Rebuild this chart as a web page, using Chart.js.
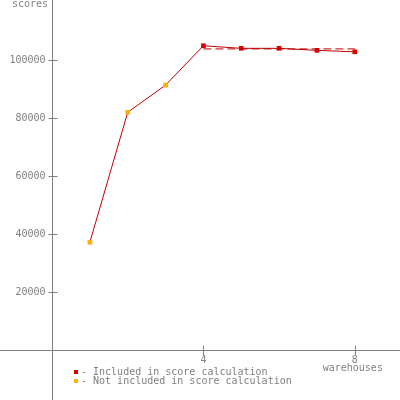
<!DOCTYPE html>
<html>
<head>
<meta charset="utf-8">
<script src="https://cdn.jsdelivr.net/npm/chart.js@4.4.0/dist/chart.umd.min.js"></script>
<style>
  html, body { margin: 0; padding: 0; background: #fff; }
</style>
</head>
<body>
<canvas id="chart" width="400" height="400"></canvas>
<script>
const warehouses = [1, 2, 3, 4, 5, 6, 7, 8];
const scores = [37200, 82100, 91500, 105100, 104200, 104200, 103500, 103000];
const included = [false, false, false, true, true, true, true, true];
const scoreLineX = [4, 8];
const scoreLineY = [104000, 104000];
const yTicks = [20000, 40000, 60000, 80000, 100000];
const xTicks = [4, 8];
const yTitle = 'scores';
const xTitle = 'warehouses';
const legendLabels = ['- Included in score calculation', '- Not included in score calculation'];

const RED = '#e00000';
const ORANGE = '#ffb000';
const GREY = '#808080';
const FONT = '10px "DejaVu Sans Mono", monospace';

// axes cross at 0,0 inside the plot, so they are drawn by hand from the scales
const axesPlugin = {
  id: 'crossAxes',
  beforeDatasetsDraw(chart) {
    const ctx = chart.ctx;
    const xs = chart.scales.x, ys = chart.scales.y;
    const x0 = Math.round(xs.getPixelForValue(0)) + 0.5;
    const y0 = Math.round(ys.getPixelForValue(0)) + 0.5;
    ctx.save();
    ctx.strokeStyle = GREY;
    ctx.lineWidth = 1;
    ctx.beginPath();
    ctx.moveTo(x0, 0); ctx.lineTo(x0, chart.height);
    ctx.moveTo(0, y0); ctx.lineTo(chart.width, y0);
    yTicks.forEach(v => {
      const y = Math.round(ys.getPixelForValue(v)) + 0.5;
      ctx.moveTo(x0 - 4, y); ctx.lineTo(x0 + 5, y);
    });
    xTicks.forEach(v => {
      const x = Math.round(xs.getPixelForValue(v)) + 0.5;
      ctx.moveTo(x, y0 - 5); ctx.lineTo(x, y0 + 5);
    });
    ctx.stroke();

    ctx.font = FONT;
    ctx.fillStyle = GREY;
    ctx.textAlign = 'right';
    ctx.textBaseline = 'middle';
    yTicks.forEach(v => ctx.fillText(String(v), x0 - 7, ys.getPixelForValue(v)));
    ctx.textAlign = 'center';
    xTicks.forEach(v => ctx.fillText(String(v), xs.getPixelForValue(v), y0 + 10));
    ctx.fillText(xTitle, xs.getPixelForValue(8) - 2, y0 + 18);
    ctx.textAlign = 'left';
    ctx.textBaseline = 'alphabetic';
    ctx.fillText(yTitle, 12, 7);
    ctx.restore();
  },
  afterDraw(chart) {
    const ctx = chart.ctx;
    ctx.save();
    ctx.font = FONT;
    ctx.textBaseline = 'middle';
    [RED, ORANGE].forEach((c, i) => {
      const y = 372 + i * 9;
      ctx.fillStyle = c;
      ctx.fillRect(74, y - 2, 4, 4);
      ctx.fillStyle = GREY;
      ctx.fillText(legendLabels[i], 81, y);
    });
    ctx.restore();
  }
};

new Chart(document.getElementById('chart'), {
  type: 'line',
  data: {
    datasets: [
      {
        label: 'score',
        data: scoreLineX.map((x, i) => ({ x, y: scoreLineY[i] })),
        borderColor: '#c00000',
        borderWidth: 1,
        borderDash: [8, 4],
        pointRadius: 0,
        fill: false
      },
      {
        label: 'throughput',
        data: warehouses.map((x, i) => ({ x, y: scores[i] })),
        borderColor: '#c00000',
        borderWidth: 1,
        pointStyle: 'rect',
        pointRadius: 3.3,
        pointBorderWidth: 0,
        pointBackgroundColor: included.map(v => v ? RED : ORANGE),
        fill: false,
        tension: 0
      }
    ]
  },
  options: {
    responsive: false,
    animation: false,
    devicePixelRatio: 1,
    layout: { padding: 0, autoPadding: false },
    plugins: { legend: { display: false }, tooltip: { enabled: false } },
    scales: {
      x: { type: 'linear', min: -1.374, max: 9.194, display: false },
      y: { type: 'linear', min: -17271, max: 120898, display: false }
    }
  },
  plugins: [axesPlugin]
});
</script>
</body>
</html>
